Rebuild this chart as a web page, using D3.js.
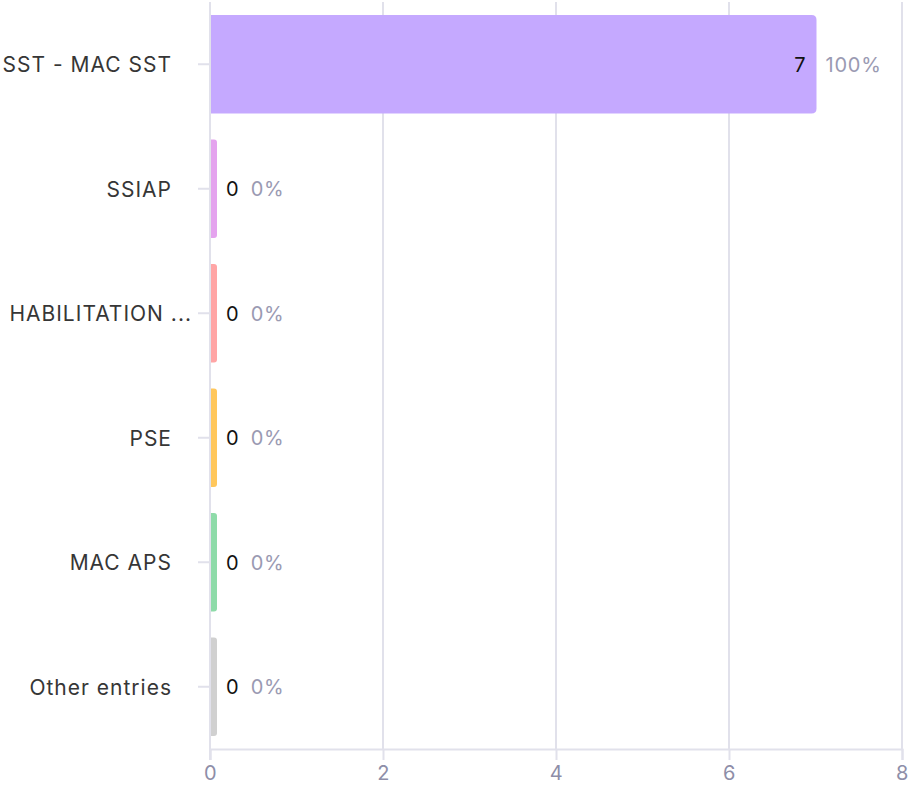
<!DOCTYPE html>
<html><head><meta charset="utf-8">
<script src="https://cdn.jsdelivr.net/npm/d3@7"></script>
<style>
html,body{margin:0;padding:0;background:#fff;}
svg{display:block;font-family:Inter,"Noto Sans",sans-serif;}
</style></head>
<body>
<svg id="c" width="908" height="786"></svg>
<script>
const categories = ["SST - MAC SST","SSIAP","HABILITATION ...","PSE","MAC APS","Other entries"];
const values = [7,0,0,0,0,0];
const percents = ["100%","0%","0%","0%","0%","0%"];
const colors = ["#c5a9ff","#e4a3ee","#ffa5a5","#ffc75c","#8edba9","#d0d0d0"];
const xTicks = [0,2,4,6,8];

const svg = d3.select("#c");
const x = d3.scaleLinear().domain([0,8]).range([210,902]);
const y = d3.scaleBand().domain(categories).range([2,749]).paddingInner(0.21).paddingOuter(0.105);
const grid = "#e1e1eb";

// gridlines
svg.append("g").selectAll("line").data(xTicks.filter(d=>d>0)).join("line")
  .attr("x1",d=>x(d)).attr("x2",d=>x(d)).attr("y1",2).attr("y2",749)
  .attr("stroke",grid).attr("stroke-width",2);

// x axis
const xa = svg.append("g").attr("transform","translate(0,749)")
  .call(d3.axisBottom(x).tickValues(xTicks).tickSize(11).tickPadding(6));
xa.select(".domain").attr("stroke",grid).attr("stroke-width",2);
xa.selectAll(".tick line").attr("stroke",grid).attr("stroke-width",2);
xa.selectAll(".tick text").attr("fill","#8e8ea8").attr("font-size",20)
  .attr("font-family","Inter,sans-serif").attr("letter-spacing","0.5px");

// y axis
svg.append("line").attr("x1",210).attr("x2",210).attr("y1",2).attr("y2",760)
  .attr("stroke",grid).attr("stroke-width",2);
const ya = svg.append("g").attr("transform","translate(210,0)")
  .call(d3.axisLeft(y).tickSize(12).tickPadding(0));
ya.select(".domain").remove();
ya.selectAll(".tick line").attr("stroke",grid).attr("stroke-width",2);
ya.selectAll(".tick text")
  .attr("x",d=>d.endsWith("...")?-18:-38)
  .attr("dy","0.38em")
  .attr("letter-spacing","1px")
  .attr("fill","#363636").attr("font-size",21).attr("font-family","Inter,sans-serif");

// bars (right corners rounded)
const r = 5, minW = 6;
function barPath(d,i){
  const x0 = x(0)+1, w = Math.max(x(values[i])-x(0), minW), y0 = y(d), h = y.bandwidth();
  const rr = Math.min(r, w/2);
  return `M${x0},${y0}H${x0+w-rr}Q${x0+w},${y0} ${x0+w},${y0+rr}V${y0+h-rr}Q${x0+w},${y0+h} ${x0+w-rr},${y0+h}H${x0}Z`;
}
svg.append("g").selectAll("path").data(categories).join("path")
  .attr("d",barPath).attr("fill",(d,i)=>colors[i]);

// value labels
const lab = svg.append("g").attr("font-size",20).attr("font-family","Inter,sans-serif");
categories.forEach((c,i)=>{
  const cy = y(c)+y.bandwidth()/2;
  const end = Math.max(x(values[i]), x(0)+minW);
  if (values[i] > 0) {
    lab.append("text").attr("x",end-10).attr("y",cy).attr("dy","0.38em")
      .attr("text-anchor","end").attr("fill","#111").text(values[i]);
    lab.append("text").attr("x",end+10).attr("y",cy).attr("dy","0.38em")
      .attr("letter-spacing","0.8px").attr("fill","#9a9ab2").text(percents[i]);
  } else {
    const t = lab.append("text").attr("x",end+10).attr("y",cy).attr("dy","0.38em")
      .attr("fill","#111").text(values[i]);
    const w = t.node().getComputedTextLength();
    lab.append("text").attr("x",end+10+w+12).attr("y",cy).attr("dy","0.38em")
      .attr("letter-spacing","0.8px").attr("fill","#9a9ab2").text(percents[i]);
  }
});
</script>
</body></html>
